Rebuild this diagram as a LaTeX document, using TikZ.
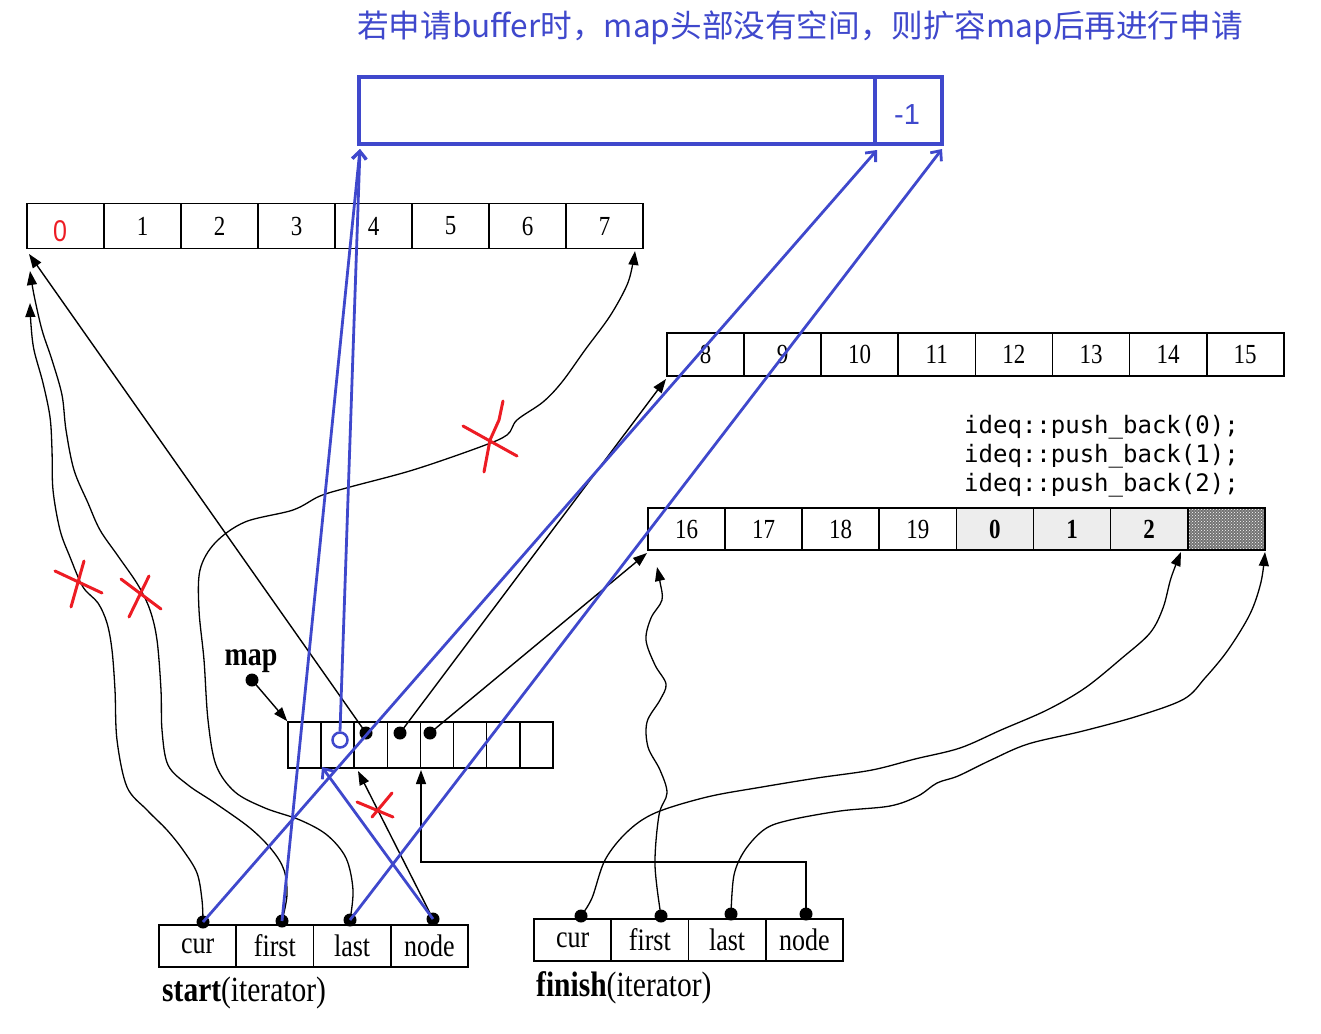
\documentclass[tikz,border=0pt]{standalone}
\usepackage{fontspec}
\usepackage{graphicx}
\setmainfont{Liberation Serif}
\newfontfamily\cjkf{Noto Sans CJK SC}
\newfontfamily\monof{DejaVu Sans Mono}
\newfontfamily\sansf{Liberation Sans}
\usetikzlibrary{arrows.meta,patterns}
\definecolor{bl}{RGB}{63,72,204}
\definecolor{rd}{RGB}{237,28,36}
\newcommand{\sv}[1]{\scalebox{1}[1.2]{#1}}
\newcommand{\usc}{{\char"5F}}
\begin{document}
\begin{tikzpicture}[x=1pt,y=-1pt,
  cellA/.style={draw, line width=1.6pt, minimum width=77pt, inner sep=0pt, font=\fontsize{23}{26}\selectfont},
  cellM/.style={draw, line width=1.6pt, minimum width=33.1pt, minimum height=46pt, inner sep=0pt},
  cellS/.style={draw, line width=1.6pt, minimum width=77.25pt, minimum height=42pt, inner sep=0pt, font=\fontsize{26}{28}\selectfont},
  dotn/.style={circle, fill=black, inner sep=0pt, minimum size=13pt},
  blk/.style={line width=1.4pt, -{Triangle[length=14pt,width=10pt]}},
  crv/.style={line width=1.3pt, -{Triangle[length=14pt,width=10pt]}},
  blu/.style={draw=bl, line width=2.8pt, -{Straight Barb[length=8pt,width=14pt]}},
  bbox/.style={draw=bl, line width=4pt, minimum height=67pt, inner sep=0pt},
  redx/.style={draw=rd, line width=3pt, line cap=round},
  captn/.style={font=\fontsize{29.5}{32}\selectfont, anchor=west, inner sep=0pt},
  codef/.style={font=\monof\fontsize{24}{28}\selectfont, anchor=west, inner sep=0pt}
]
\useasboundingbox (0,0) rectangle (1321,1033);

% title
\node[font=\cjkf\fontsize{31.6}{36}\selectfont, text=bl] (title) at (800,28) {若申请buffer时，map头部没有空间，则扩容map后再进行申请};

% new blue buffer
\node[bbox, minimum width=516pt] (nb0) at (617,110.5) {};
\node[bbox, minimum width=67pt, text=bl, font=\sansf\fontsize{29}{30}\selectfont] (nb1) at (908.5,110.5) {};
\node[text=bl, font=\sansf\fontsize{29}{30}\selectfont] (nb1t) at (907,115) {-1};

% buffer row 1
\foreach \t [count=\i from 0] in {{},1,2,3,4,5,6,7}
  \node[cellA, minimum height=45pt] (a\i) at ({65.5+77*\i},226) {\sv{\t}};
\node[text=rd, font=\sansf\fontsize{25}{28}\selectfont] (a0t) at (60,231) {\sv{0}};

% buffer row 2
\foreach \t [count=\i from 0] in {8,9,10,11,12,13,14,15}
  \node[cellA, minimum height=43pt] (b\i) at ({705.5+77.1*\i},354.5) {\sv{\t}};

% buffer row 3
\foreach \t [count=\i from 0] in {16,17,18,19}
  \node[cellA, minimum height=42pt] (c\i) at ({686.5+77.1*\i},529) {\sv{\t}};
\foreach \t [count=\i from 4] in {0,1,2}
  \node[cellA, minimum height=42pt, fill=black!7, font=\bfseries\fontsize{23}{26}\selectfont] (c\i) at ({686.5+77.1*\i},529) {\sv{\t}};
\node[cellA, minimum height=42pt, preaction={fill=black!55}, pattern=crosshatch dots, pattern color=white] (c7) at ({686.5+77.1*7},529) {};

% code
\node[codef] (code0) at (964,427) {ideq::push\usc back(0);};
\node[codef] (code1) at (964,456) {ideq::push\usc back(1);};
\node[codef] (code2) at (964,485) {ideq::push\usc back(2);};

% map
\foreach \i in {0,...,7}
  \node[cellM] (m\i) at ({304.6+33.1*\i},745) {};
\node[font=\bfseries\fontsize{28}{30}\selectfont] (maplbl) at (251,661) {\sv{map}};

% start iterator
\foreach \t [count=\i from 0] in {cur,first,last,node}
  \node[cellS] (s\i) at ({197.6+77.25*\i},946) {\sv{\t}};
\node[captn] (startlbl) at (162,993) {\sv{\textbf{start}(iterator)}};

% finish iterator
\foreach \t [count=\i from 0] in {cur,first,last,node}
  \node[cellS] (f\i) at ({572.6+77.25*\i},940) {\sv{\t}};
\node[captn] (finlbl) at (536,988) {\sv{\textbf{finish}(iterator)}};

% dots
\node[dotn] (mapd) at (252,680) {};
\node[dotn] (d3) at (366,733) {};
\node[dotn] (d4) at (400,733) {};
\node[dotn] (d5) at (430,733) {};
\node[dotn] (sd0) at (203,922) {};
\node[dotn] (sd1) at (282,921) {};
\node[dotn] (sd2) at (350,920) {};
\node[dotn] (sd3) at (433,919) {};
\node[dotn] (fd0) at (581,916) {};
\node[dotn] (fd1) at (661,916) {};
\node[dotn] (fd2) at (731,914) {};
\node[dotn] (fd3) at (806,914) {};

% arrow targets
\coordinate (tCur) at (30,303);
\coordinate (tFirst) at (30,271);
\coordinate (tLast) at (635,251);
\coordinate (tS) at (29,254);
\coordinate (tB) at (666,379);
\coordinate (tC) at (647,553);
\coordinate (tM3) at (358,771);
\coordinate (tM5) at (421,770);
\coordinate (fb) at (421,862);
\coordinate (tFc) at (1181,552);
\coordinate (tFf) at (657,567);
\coordinate (tFl) at (1265,552);
\coordinate (bt0) at (360,149);
\coordinate (bt1) at (877,150);
\coordinate (bt2) at (942,149);
\coordinate (bm) at (322,767);

% black connectors
\draw[blk] (mapd.center) -- (m0.north west);
\draw[blk] (d3.center) -- (tS);
\draw[blk] (d4.center) -- (tB);
\draw[blk] (d5.center) -- (tC);
\draw[blk] (sd3.center) -- (tM3);
\draw[blk] (fd3.center) |- (fb) -- (tM5);

\draw[crv] plot[smooth, tension=0.55] coordinates {(sd0.center) (202,900) (197,873) (183,850) (167,830) (147,810) (127,787) (117,740) (115,690) (112,650) (107,623) (98,603) (83,587) (70,557) (60,530) (53,490) (52,450) (50,417) (43,383) (34,350) (31,325) (tCur)};

\draw[crv] plot[smooth, tension=0.55] coordinates {(sd1.center) (287,895) (284,870) (272,850) (250,828) (215,803) (188,785) (168,765) (162,730) (161,690) (157,640) (150,610) (138,585) (118,556) (100,530) (88,503) (74,470) (66,430) (62,395) (52,360) (42,330) (34,295) (tFirst)};

\draw[crv] plot[smooth, tension=0.55] coordinates {(sd2.center) (353,890) (346,858) (327,835) (300,820) (265,808) (235,792) (216,765) (208,720) (204,660) (199,610) (200,570) (215,543) (245,522) (293,510) (320,496) (350,487) (413,470) (480,447) (507,435) (517,420) (543,402) (562,382) (585,350) (610,316) (627,285) (633,263) (tLast)};

\draw[crv] plot[smooth, tension=0.55] coordinates {(fd0.center) (592,898) (605,860) (627,832) (655,813) (707,797) (762,787) (817,778) (872,770) (915,759) (960,748) (1001,730) (1047,710) (1085,688) (1122,658) (1150,633) (1163,608) (1171,578) (tFc)};

\draw[crv] plot[smooth, tension=0.55] coordinates {(fd1.center) (655,865) (659,815) (667,793) (660,770) (648,747) (647,722) (660,700) (666,684) (655,665) (646,640) (651,618) (662,600) (660,582) (tFf)};

\draw[crv] plot[smooth, tension=0.55] coordinates {(fd2.center) (734,875) (745,850) (765,829) (790,820) (840,811) (890,806) (918,796) (937,783) (958,776) (991,760) (1028,744) (1083,731) (1138,716) (1184,699) (1205,678) (1228,650) (1250,614) (1261,582) (tFl)};

% blue
\node[draw=bl, circle, line width=2.5pt, minimum size=15pt, inner sep=0pt] (bc) at (340,740) {};
\draw[blu] (sd1.center) -- (bt0);
\draw[blu] (bc.north) -- (bt0);
\draw[blu] (sd0.center) -- (bt1);
\draw[blu] (sd2.center) -- (bt2);
\draw[blu] (sd3.center) -- (bm);

% red crosses
\draw[redx] (55,571) -- (102,593);
\draw[redx] (84,561) -- (71,607);
\draw[redx] (121,579) -- (161,609);
\draw[redx] (149,576) -- (129,617);
\draw[redx] (463,426) -- (517,456);
\draw[redx] (503,401) -- (499,420) -- (490,440) -- (484,472);
\draw[redx] (357,802) -- (393,817);
\draw[redx] (392,793) -- (372,817);
\end{tikzpicture}
\end{document}
